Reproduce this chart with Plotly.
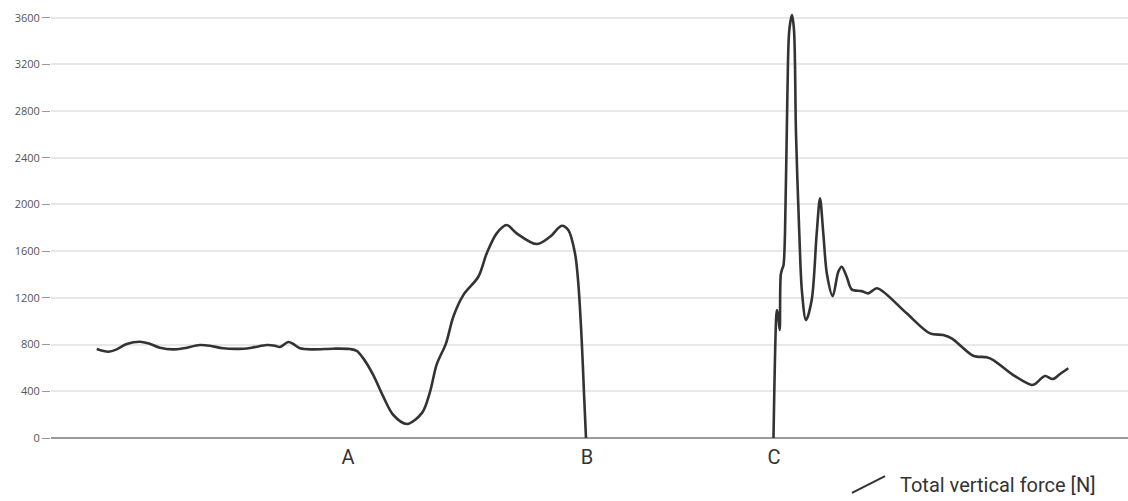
import plotly.graph_objects as go

# time axis (s) and total vertical force (N); None = gap (flight phase)
time_s = [0.000, 0.116, 0.200, 0.300, 0.433, 0.516, 0.633, 0.766, 0.866, 1.033,
          1.133, 1.266, 1.466, 1.566, 1.700, 1.783, 1.833, 1.916, 1.966, 2.033,
          2.166, 2.366, 2.533, 2.600, 2.666, 2.766, 2.866, 2.966, 3.103, 3.253,
          3.333, 3.400, 3.493, 3.566, 3.666, 3.816, 3.900, 4.000, 4.100, 4.200,
          4.400, 4.533, 4.650, 4.716, 4.783, 4.816, 4.850, 4.873, 4.893,
          5.800,
          6.768, 6.796, 6.803, 6.816, 6.830, 6.841, 6.856, 6.868, 6.883, 6.906,
          6.926, 6.953, 6.973, 6.993, 7.026, 7.053, 7.093, 7.150, 7.200, 7.233,
          7.266, 7.303, 7.360, 7.416, 7.450, 7.500, 7.550, 7.650, 7.716, 7.800,
          7.866, 8.100, 8.333, 8.466, 8.550, 8.766, 8.900, 8.966, 9.166, 9.350,
          9.383, 9.483, 9.560, 9.633, 9.716]
force_n = [762, 739, 759, 805, 825, 811, 773, 759, 768, 796,
           790, 768, 765, 776, 796, 790, 779, 822, 805, 768,
           759, 765, 762, 747, 682, 539, 354, 197, 120, 215,
           395, 630, 811, 1039, 1224, 1381, 1581, 1753, 1824, 1753,
           1661, 1724, 1818, 1781, 1581, 1325, 839, 383, 0,
           None,
           0, 1050, 1096, 1040, 925, 1400, 1450, 1480, 1753, 2894,
           3493, 3622, 3493, 2609, 1753, 1250, 1010, 1182, 1753, 2052,
           1753, 1400, 1215, 1424, 1467, 1381, 1273, 1258, 1239, 1282,
           1253, 1068, 896, 882, 854, 705, 691, 668, 539, 454,
           462, 531, 505, 548, 597]

phase_ticks = [2.513, 4.903, 6.773]
phase_labels = ["A", "B", "C"]
y_ticks = [0, 400, 800, 1200, 1600, 2000, 2400, 2800, 3200, 3600]
series_name = "Total vertical force [N]"

fig = go.Figure()
fig.add_trace(go.Scatter(
    x=time_s, y=force_n, mode="lines", name=series_name,
    line=dict(color="#333333", width=2.6, shape="spline", smoothing=0.9),
    connectgaps=False, showlegend=False, hoverinfo="x+y",
))

fig.update_layout(
    width=1128, height=501,
    margin=dict(l=51, r=0, t=6, b=63),
    paper_bgcolor="white", plot_bgcolor="white",
    font=dict(family="Open Sans", color="#555555"),
    xaxis=dict(
        range=[-0.457, 10.313], tickmode="array", tickvals=phase_ticks,
        ticktext=phase_labels, showgrid=False, zeroline=False, showline=False,
        ticks="", ticklabelstandoff=5,
        tickfont=dict(family="Roboto", size=20, color="#333333"),
        automargin=False,
    ),
    yaxis=dict(
        range=[0, 3700], tickmode="array", tickvals=y_ticks,
        showgrid=True, gridcolor="#e8e8e8", gridwidth=1.5,
        zeroline=True, zerolinecolor="#9a9a9a", zerolinewidth=1.5,
        showline=False, ticks="outside", ticklen=8, tickcolor="#9a9a9a",
        tickwidth=1, tickfont=dict(family="Open Sans", size=11, color="#555555"),
        automargin=False,
    ),
)

# legend entry (diagonal line glyph + label)
fig.add_shape(type="line", xref="paper", yref="paper",
              x0=0.7437, y0=-0.127, x1=0.7744, y1=-0.088,
              line=dict(color="#333333", width=2))
fig.add_annotation(text=series_name, xref="paper", yref="paper",
                   x=0.7864, y=-0.108, xanchor="left", yanchor="middle",
                   showarrow=False,
                   font=dict(family="Roboto", size=20, color="#333333"))

fig.write_html("out.html",
               config={"displayModeBar": False},
               post_script="document.body.style.margin='0';"
                           "document.body.style.overflow='hidden';")
